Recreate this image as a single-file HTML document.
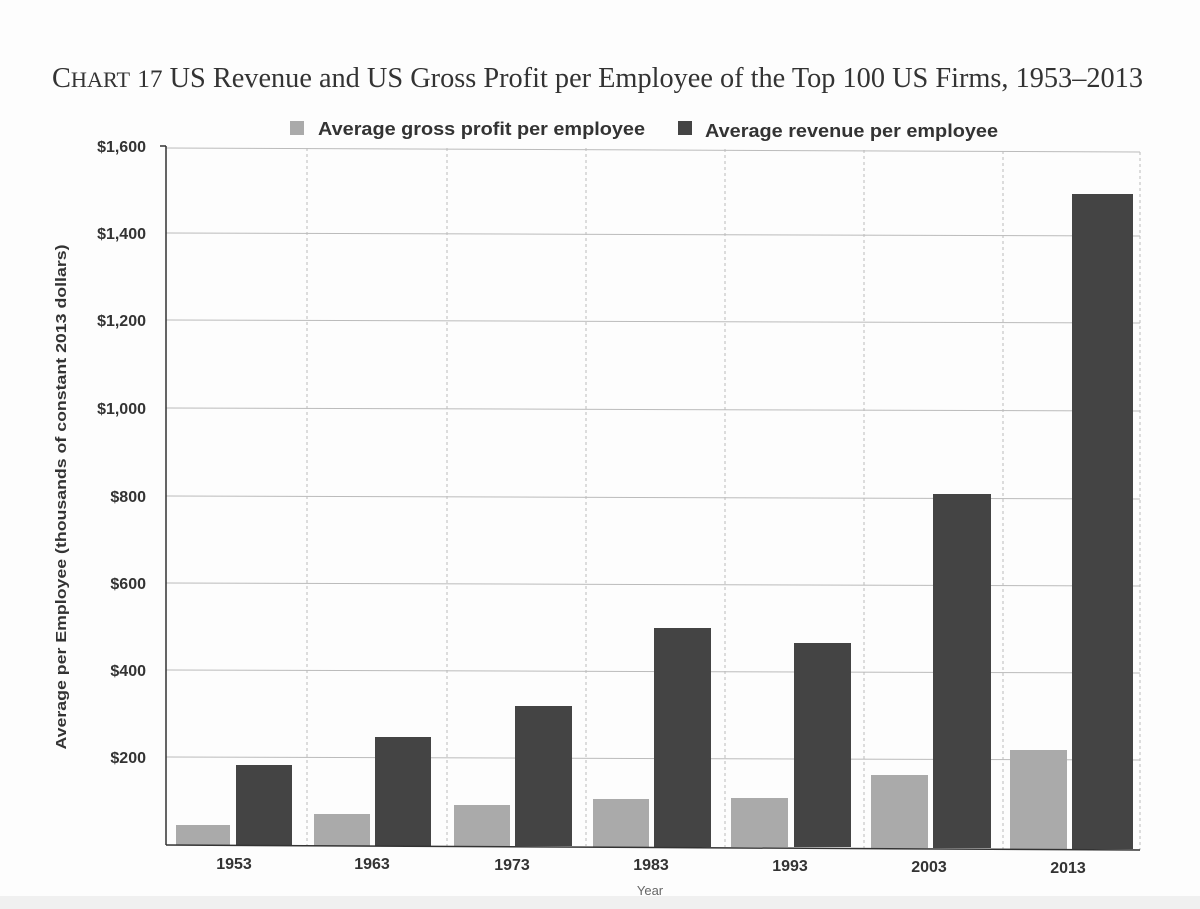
<!DOCTYPE html>
<html><head><style>
body{margin:0;background:#fff;}
svg{display:block}
</style></head><body>
<svg width="1200" height="909" xmlns="http://www.w3.org/2000/svg">
<rect width="1200" height="909" fill="#fdfdfd"/>
<text x="52" y="87" font-family="Liberation Serif, serif" font-size="28" fill="#333" textLength="1091" lengthAdjust="spacingAndGlyphs">C<tspan font-size="22">HART</tspan> <tspan font-size="25">17</tspan>  US Revenue and US Gross Profit per Employee of the Top 100 US Firms, 1953–2013</text>
<g font-family="Liberation Sans, sans-serif" font-size="18" font-weight="bold" fill="#333">
<rect x="290" y="121" width="14" height="14" fill="#aaa"/>
<text x="318" y="135" textLength="327" lengthAdjust="spacingAndGlyphs">Average gross profit per employee</text>
<rect x="678" y="121" width="14" height="14" fill="#444"/>
<text x="705" y="137" textLength="293" lengthAdjust="spacingAndGlyphs">Average revenue per employee</text>
</g>
<g stroke="#bbb" stroke-width="1">
<line x1="166" y1="148" x2="1140" y2="152"/>
<line x1="166" y1="233" x2="1140" y2="236"/>
<line x1="166" y1="320" x2="1140" y2="323"/>
<line x1="166" y1="408" x2="1140" y2="411"/>
<line x1="166" y1="496" x2="1140" y2="499"/>
<line x1="166" y1="583" x2="1140" y2="586"/>
<line x1="166" y1="670" x2="1140" y2="673"/>
<line x1="166" y1="757" x2="1140" y2="760"/>
</g>
<g stroke="#bbb" stroke-width="1" stroke-dasharray="3,3">
<line x1="307" y1="148" x2="307" y2="845"/>
<line x1="447" y1="148" x2="447" y2="846"/>
<line x1="586" y1="148" x2="586" y2="846"/>
<line x1="725" y1="149" x2="725" y2="847"/>
<line x1="864" y1="150" x2="864" y2="848"/>
<line x1="1003" y1="151" x2="1003" y2="849"/>
<line x1="1140" y1="152" x2="1140" y2="850"/>
</g>
<g fill="#aaa">
<rect x="176" y="825" width="54" height="20"/>
<rect x="314" y="814" width="56" height="32"/>
<rect x="454" y="805" width="56" height="41"/>
<rect x="593" y="799" width="56" height="48"/>
<rect x="731" y="798" width="57" height="49"/>
<rect x="871" y="775" width="57" height="73"/>
<rect x="1010" y="750" width="57" height="99"/>
</g>
<g fill="#444">
<rect x="236" y="765" width="56" height="80"/>
<rect x="375" y="737" width="56" height="109"/>
<rect x="515" y="706" width="57" height="140"/>
<rect x="654" y="628" width="57" height="219"/>
<rect x="794" y="643" width="57" height="204"/>
<rect x="933" y="494" width="58" height="354"/>
<rect x="1072" y="194" width="61" height="655"/>
</g>
<line x1="166" y1="146" x2="166" y2="845" stroke="#333" stroke-width="1.5"/>
<line x1="160" y1="146" x2="166" y2="146" stroke="#333" stroke-width="1.5"/>
<line x1="166" y1="845" x2="1140" y2="850" stroke="#333" stroke-width="1.5"/>
<g font-family="Liberation Sans, sans-serif" font-size="16" font-weight="bold" fill="#333" text-anchor="end">
<text x="146" y="152">$1,600</text>
<text x="146" y="239">$1,400</text>
<text x="146" y="326">$1,200</text>
<text x="146" y="414">$1,000</text>
<text x="146" y="502">$800</text>
<text x="146" y="589">$600</text>
<text x="146" y="676">$400</text>
<text x="146" y="763">$200</text>
</g>
<g font-family="Liberation Sans, sans-serif" font-size="16" font-weight="bold" fill="#333" text-anchor="middle">
<text x="234" y="869">1953</text>
<text x="372" y="869">1963</text>
<text x="512" y="870">1973</text>
<text x="651" y="870">1983</text>
<text x="790" y="871">1993</text>
<text x="929" y="872">2003</text>
<text x="1068" y="873">2013</text>
<text x="650" y="895" font-size="13" font-weight="normal" fill="#666">Year</text>
</g>
<text transform="translate(66,497) rotate(-90)" font-family="Liberation Sans, sans-serif" font-size="15" font-weight="bold" fill="#333" text-anchor="middle" textLength="505" lengthAdjust="spacingAndGlyphs">Average per Employee (thousands of constant 2013 dollars)</text>
<rect x="0" y="896" width="1200" height="13" fill="#f0f0f0"/>
</svg>
</body></html>
